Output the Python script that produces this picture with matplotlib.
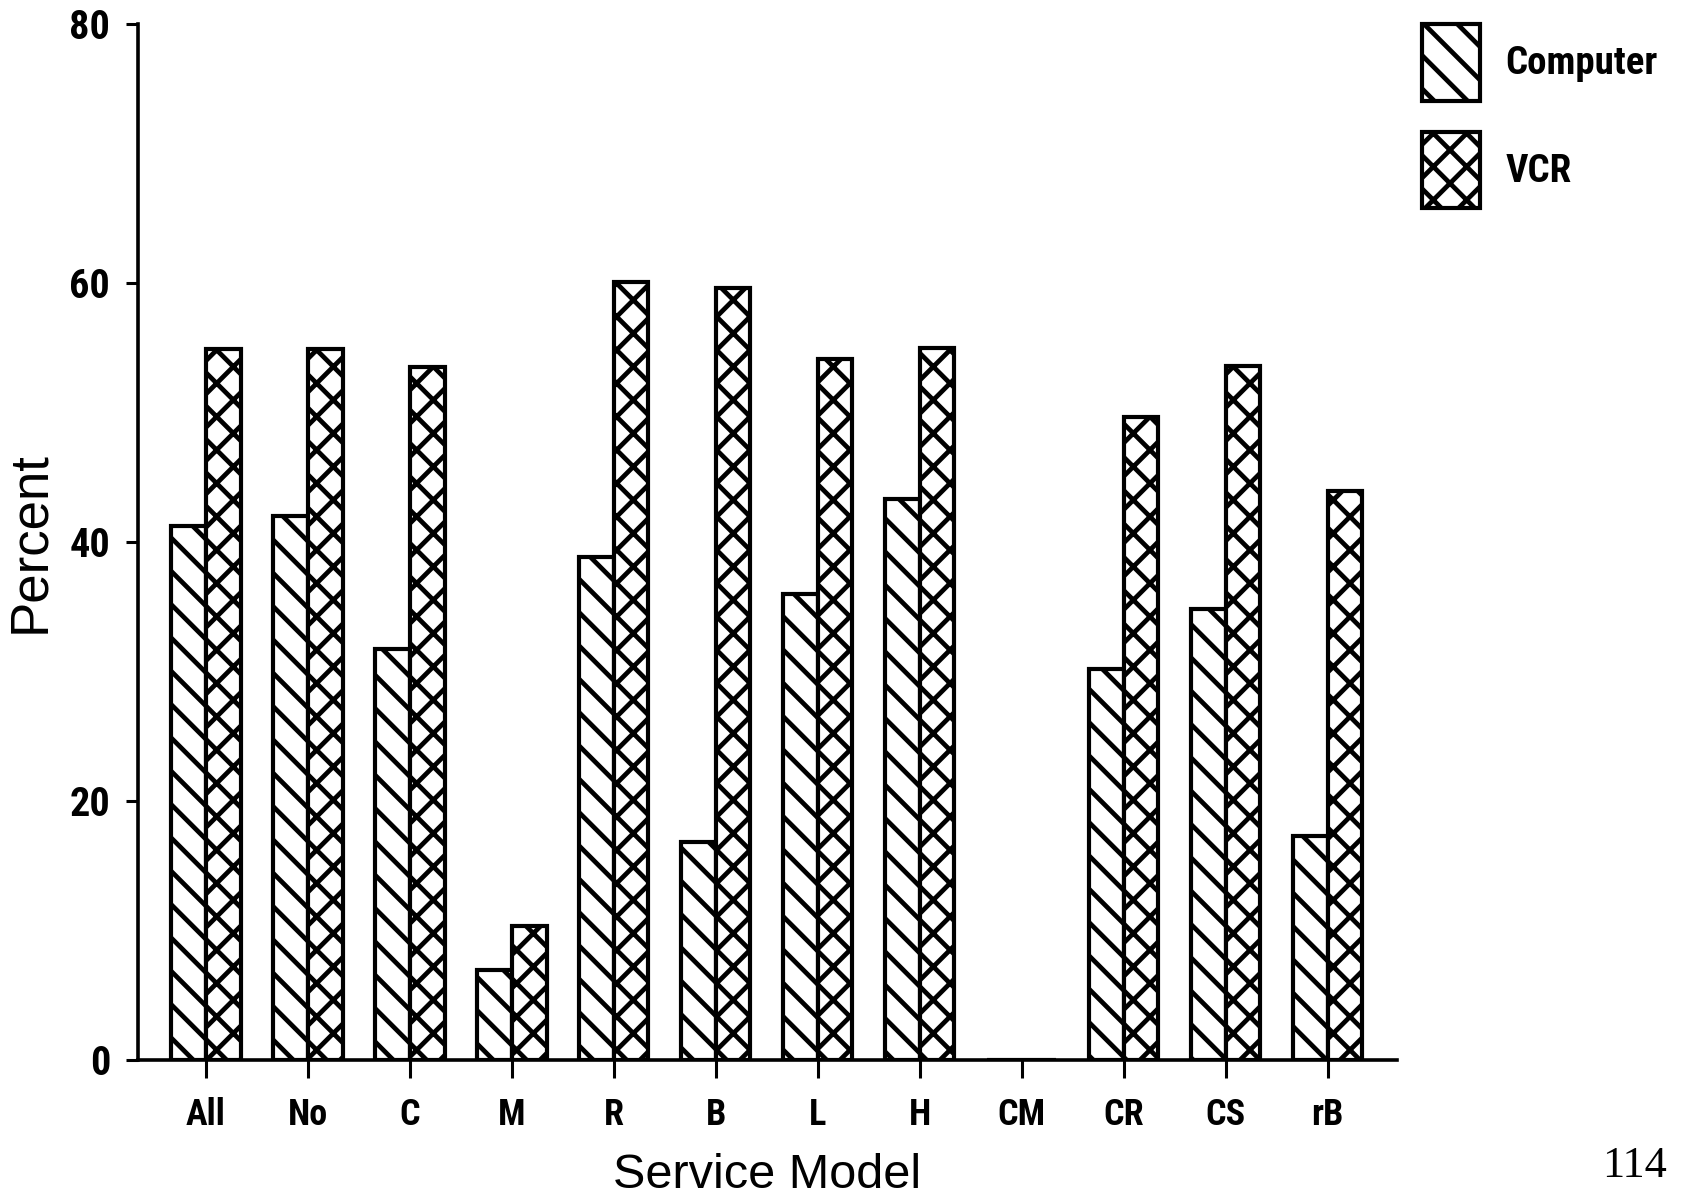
import numpy as np
import matplotlib
matplotlib.use("Agg")
import matplotlib.pyplot as plt

# values (percent)
models = ["All", "No", "C", "M", "R", "B", "L", "H", "CM", "CR", "CS", "rB"]
computer = [41.2, 42.0, 31.7, 6.9, 38.8, 16.8, 36.0, 43.3, 0.0, 30.2, 34.8, 17.3]
vcr = [54.9, 54.9, 53.5, 10.3, 60.1, 59.6, 54.1, 55.0, 0.0, 49.6, 53.6, 43.9]
yticks = [0, 20, 40, 60, 80]

narrow = ["Liberation Sans Narrow", "DejaVu Sans Condensed", "Roboto Condensed",
          "Roboto", "DejaVu Sans"]
plain = ["Liberation Sans", "DejaVu Sans"]

plt.rcParams["hatch.linewidth"] = 1.7
plt.rcParams["hatch.color"] = "black"

# dpi 200 so that the hatch spacing comes out as sparse as in the scan
fig = plt.figure(figsize=(8.425, 5.975), dpi=200)
ax = fig.add_axes([0.0817, 0.1133, 0.7473, 0.8667])

x = np.arange(len(models))
w = 0.34
ax.bar(x - w / 2, computer, w, facecolor="white", edgecolor="black",
       linewidth=1.5, hatch="\\\\", label="Computer")
ax.bar(x + w / 2, vcr, w, facecolor="white", edgecolor="black",
       linewidth=1.5, hatch="xx", label="VCR")

ax.set_xlim(-0.67, 11.68)
ax.set_ylim(0, 80)
ax.set_yticks(yticks)
ax.set_xticks(x)
ax.set_xticklabels(models)

for s in ["top", "right"]:
    ax.spines[s].set_visible(False)
for s in ["left", "bottom"]:
    ax.spines[s].set_linewidth(1.3)

ax.tick_params(axis="y", length=4.5, width=1.1, pad=5.4, labelsize=14.5)
ax.tick_params(axis="x", length=6.5, width=1.1, pad=7, labelsize=13)
for lab in ax.get_xticklabels() + ax.get_yticklabels():
    lab.set_family(narrow)
    lab.set_fontweight("bold")

ax.set_xlabel("Service Model", family=plain, fontsize=17.5, labelpad=7)
ax.set_ylabel("Percent", family=plain, fontsize=19, labelpad=5)

leg = fig.legend(loc="upper left", bbox_to_anchor=(1422 / 1685, 1 - 24 / 1195),
                 frameon=False, borderpad=0, borderaxespad=0,
                 handlelength=1.5, handleheight=2.65, labelspacing=0.8,
                 handletextpad=0.65, prop={"family": narrow, "weight": "bold", "size": 14})

# page number from the scan
fig.text(1602 / 1685, 1 - 1166 / 1195, "114", family=["Liberation Serif", "DejaVu Serif"],
         fontsize=16, ha="left", va="center")

fig.savefig("out.png", dpi=200)
